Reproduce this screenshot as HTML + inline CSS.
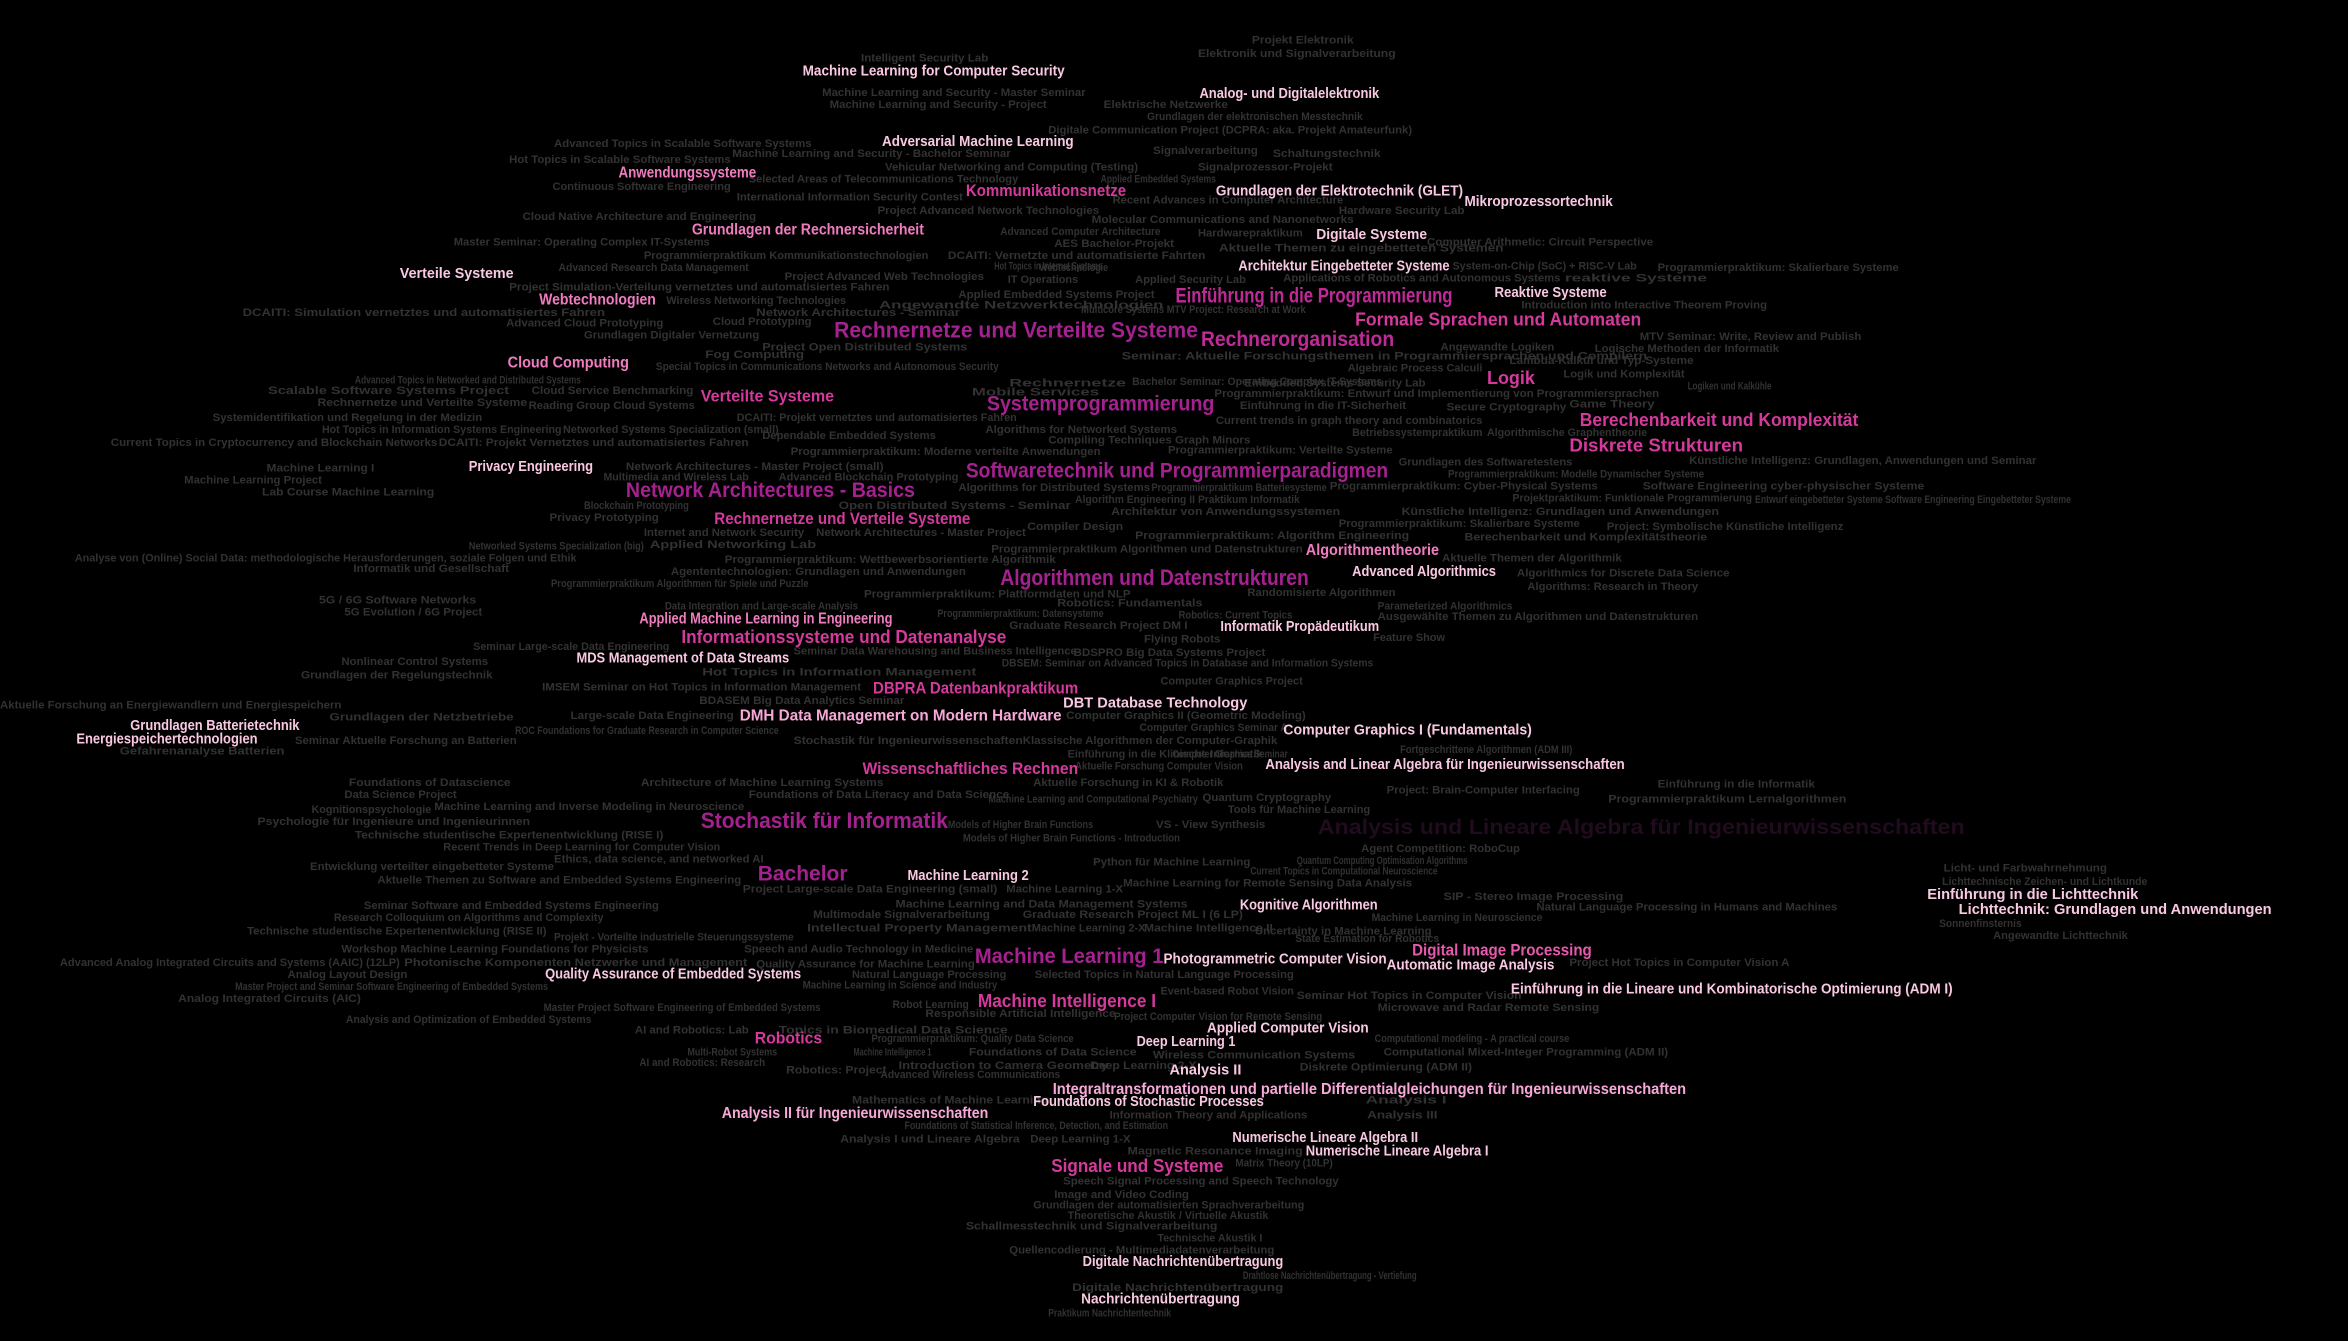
<!DOCTYPE html>
<html><head><meta charset="utf-8"><style>
html,body{margin:0;padding:0;background:#000;width:2348px;height:1341px;overflow:hidden}
svg{display:block}
text{font-family:"Liberation Sans",Arial,sans-serif;font-weight:bold}
.g{font-size:7.6px;fill:#323232}
.d{font-size:7.6px;fill:#262626}
.w{font-size:9.6px;fill:#f9c8e2}
.p{font-size:10.2px;fill:#f07cc0}
.m{font-size:12.5px;fill:#d43a9c}
.b{font-size:15px;fill:#a5218f}
</style></head><body>
<svg width="2348" height="1341" viewBox="0 0 1568 895.5" preserveAspectRatio="none" xmlns="http://www.w3.org/2000/svg">
<rect width="1568" height="896" fill="#000"/>
<text class="d" x="880" y="557" textLength="432" style="font-size:14px;fill:#210b1f">Analysis und Lineare Algebra für Ingenieurwissenschaften</text>
<g>
<text class="g" x="836" y="29" textLength="68">Projekt Elektronik</text>
<text class="g" x="800" y="38" textLength="132">Elektronik und Signalverarbeitung</text>
<text class="g" x="575" y="41" textLength="85">Intelligent Security Lab</text>
<text class="g" x="549" y="64" textLength="176">Machine Learning and Security - Master Seminar</text>
<text class="g" x="554" y="72" textLength="145">Machine Learning and Security - Project</text>
<text class="g" x="737" y="72" textLength="83">Elektrische Netzwerke</text>
<text class="g" x="766" y="80" textLength="144">Grundlagen der elektronischen Messtechnik</text>
<text class="g" x="700" y="89" textLength="243">Digitale Communication Project (DCPRA: aka. Projekt Amateurfunk)</text>
<text class="g" x="370" y="98" textLength="172">Advanced Topics in Scalable Software Systems</text>
<text class="g" x="489" y="105" textLength="186">Machine Learning and Security - Bachelor Seminar</text>
<text class="g" x="770" y="103" textLength="70">Signalverarbeitung</text>
<text class="g" x="850" y="105" textLength="72">Schaltungstechnik</text>
<text class="g" x="340" y="109" textLength="148">Hot Topics in Scalable Software Systems</text>
<text class="g" x="591" y="114" textLength="169">Vehicular Networking and Computing (Testing)</text>
<text class="g" x="800" y="114" textLength="90">Signalprozessor-Projekt</text>
<text class="g" x="500" y="122" textLength="180">Selected Areas of Telecommunications Technology</text>
<text class="g" x="735" y="122" textLength="77">Applied Embedded Systems</text>
<text class="g" x="369" y="127" textLength="119">Continuous Software Engineering</text>
<text class="g" x="492" y="134" textLength="151">International Information Security Contest</text>
<text class="g" x="743" y="136" textLength="154">Recent Advances in Computer Architecture</text>
<text class="g" x="586" y="143" textLength="148">Project Advanced Network Technologies</text>
<text class="g" x="894" y="143" textLength="84">Hardware Security Lab</text>
<text class="g" x="349" y="147" textLength="156">Cloud Native Architecture and Engineering</text>
<text class="g" x="729" y="149" textLength="175">Molecular Communications and Nanonetworks</text>
<text class="g" x="668" y="157" textLength="107">Advanced Computer Architecture</text>
<text class="g" x="800" y="158" textLength="70">Hardwarepraktikum</text>
<text class="g" x="953" y="164" textLength="151">Computer Arithmetic: Circuit Perspective</text>
<text class="g" x="303" y="164" textLength="171">Master Seminar: Operating Complex IT-Systems</text>
<text class="g" x="704" y="165" textLength="80">AES Bachelor-Projekt</text>
<text class="g" x="814" y="168" textLength="190">Aktuelle Themen zu eingebetteten Systemen</text>
<text class="g" x="430" y="173" textLength="190">Programmierpraktikum Kommunikationstechnologien</text>
<text class="g" x="633" y="173" textLength="172">DCAITI: Vernetzte und automatisierte Fahrten</text>
<text class="g" x="373" y="181" textLength="127">Advanced Research Data Management</text>
<text class="g" x="664" y="180" textLength="72">Hot Topics in Internet Systems</text>
<text class="g" x="694" y="181" textLength="46">Webtechnologie</text>
<text class="g" x="970" y="180" textLength="123">System-on-Chip (SoC) + RISC-V Lab</text>
<text class="g" x="1107" y="181" textLength="161">Programmierpraktikum: Skalierbare Systeme</text>
<text class="g" x="524" y="187" textLength="133">Project Advanced Web Technologies</text>
<text class="g" x="673" y="189" textLength="47">IT Operations</text>
<text class="g" x="758" y="189" textLength="74">Applied Security Lab</text>
<text class="g" x="857" y="188" textLength="185">Applications of Robotics and Autonomous Systems</text>
<text class="g" x="1045" y="188" textLength="95">reaktive Systeme</text>
<text class="g" x="340" y="194" textLength="254">Project Simulation-Verteilung vernetztes und automatisiertes Fahren</text>
<text class="g" x="640" y="199" textLength="131">Applied Embedded Systems Project</text>
<text class="g" x="445" y="203" textLength="120">Wireless Networking Technologies</text>
<text class="g" x="1016" y="206" textLength="164">Introduction into Interactive Theorem Proving</text>
<text class="g" x="162" y="211" textLength="242">DCAITI: Simulation vernetztes und automatisiertes Fahren</text>
<text class="g" x="505" y="211" textLength="136">Network Architectures - Seminar</text>
<text class="g" x="587" y="206" textLength="190">Angewandte Netzwerktechnologien</text>
<text class="g" x="722" y="209" textLength="150">Multicore Systems MTV Project: Research at Work</text>
<text class="g" x="338" y="218" textLength="105">Advanced Cloud Prototyping</text>
<text class="g" x="476" y="217" textLength="66">Cloud Prototyping</text>
<text class="g" x="390" y="226" textLength="117">Grundlagen Digitaler Vernetzung</text>
<text class="g" x="509" y="234" textLength="137">Project Open Distributed Systems</text>
<text class="g" x="471" y="239" textLength="66">Fog Computing</text>
<text class="g" x="1095" y="227" textLength="148">MTV Seminar: Write, Review and Publish</text>
<text class="g" x="962" y="234" textLength="76">Angewandte Logiken</text>
<text class="g" x="1065" y="235" textLength="123">Logische Methoden der Informatik</text>
<text class="g" x="438" y="247" textLength="229">Special Topics in Communications Networks and Autonomous Security</text>
<text class="g" x="749" y="240" textLength="351">Seminar: Aktuelle Forschungsthemen in Programmiersprachen und Compilern</text>
<text class="g" x="1008" y="243" textLength="123">Lambda-Kalkül und Typ-Systeme</text>
<text class="g" x="900" y="248" textLength="90">Algebraic Process Calculi</text>
<text class="g" x="1044" y="252" textLength="81">Logik und Komplexität</text>
<text class="g" x="237" y="256" textLength="151">Advanced Topics in Networked and Distributed Systems</text>
<text class="g" x="674" y="258" textLength="78">Rechnernetze</text>
<text class="g" x="756" y="257" textLength="167">Bachelor Seminar: Operating Complex IT-Systems</text>
<text class="g" x="831" y="258" textLength="121">Embedded Systems Security Lab</text>
<text class="g" x="1127" y="260" textLength="56">Logiken und Kalkühle</text>
<text class="g" x="179" y="263" textLength="161">Scalable Software Systems Project</text>
<text class="g" x="355" y="263" textLength="108">Cloud Service Benchmarking</text>
<text class="g" x="649" y="264" textLength="85">Mobile Services</text>
<text class="g" x="811" y="265" textLength="297">Programmierpraktikum: Entwurf und Implementierung von Programmiersprachen</text>
<text class="g" x="212" y="271" textLength="140">Rechnernetze und Verteilte Systeme</text>
<text class="g" x="353" y="273" textLength="111">Reading Group Cloud Systems</text>
<text class="g" x="828" y="273" textLength="111">Einführung in die IT-Sicherheit</text>
<text class="g" x="966" y="274" textLength="80">Secure Cryptography</text>
<text class="g" x="1048" y="272" textLength="57">Game Theory</text>
<text class="g" x="142" y="281" textLength="180">Systemidentifikation und Regelung in der Medizin</text>
<text class="g" x="492" y="281" textLength="187">DCAITI: Projekt vernetztes und automatisiertes Fahren</text>
<text class="g" x="812" y="283" textLength="178">Current trends in graph theory and combinatorics</text>
<text class="g" x="215" y="289" textLength="160">Hot Topics in Information Systems Engineering</text>
<text class="g" x="376" y="289" textLength="144">Networked Systems Specialization (small)</text>
<text class="g" x="658" y="289" textLength="128">Algorithms for Networked Systems</text>
<text class="g" x="903" y="291" textLength="87">Betriebssystempraktikum</text>
<text class="g" x="993" y="291" textLength="107">Algorithmische Graphentheorie</text>
<text class="g" x="74" y="298" textLength="218">Current Topics in Cryptocurrency and Blockchain Networks</text>
<text class="g" x="293" y="298" textLength="207">DCAITI: Projekt Vernetztes und automatisiertes Fahren</text>
<text class="g" x="509" y="293" textLength="116">Dependable Embedded Systems</text>
<text class="g" x="700" y="296" textLength="135">Compiling Techniques Graph Minors</text>
<text class="g" x="528" y="304" textLength="207">Programmierpraktikum: Moderne verteilte Anwendungen</text>
<text class="g" x="780" y="303" textLength="150">Programmierpraktikum: Verteilte Systeme</text>
<text class="g" x="934" y="311" textLength="116">Grundlagen des Softwaretestens</text>
<text class="g" x="1128" y="310" textLength="232">Künstliche Intelligenz: Grundlagen, Anwendungen und Seminar</text>
<text class="g" x="178" y="315" textLength="72">Machine Learning I</text>
<text class="g" x="418" y="314" textLength="172">Network Architectures - Master Project (small)</text>
<text class="g" x="967" y="319" textLength="171">Programmierpraktikum: Modelle Dynamischer Systeme</text>
<text class="g" x="123" y="323" textLength="92">Machine Learning Project</text>
<text class="g" x="403" y="321" textLength="97">Multimedia and Wireless Lab</text>
<text class="g" x="520" y="321" textLength="120">Advanced Blockchain Prototyping</text>
<text class="g" x="769" y="328" textLength="117">Programmierpraktikum Batteriesysteme</text>
<text class="g" x="888" y="327" textLength="179">Programmierpraktikum: Cyber-Physical Systems</text>
<text class="g" x="1097" y="327" textLength="188">Software Engineering cyber-physischer Systeme</text>
<text class="g" x="175" y="331" textLength="115">Lab Course Machine Learning</text>
<text class="g" x="640" y="328" textLength="128">Algorithms for Distributed Systems</text>
<text class="g" x="390" y="340" textLength="70">Blockchain Prototyping</text>
<text class="g" x="718" y="336" textLength="80">Algorithm Engineering II</text>
<text class="g" x="800" y="336" textLength="68">Praktikum Informatik</text>
<text class="g" x="1010" y="335" textLength="160">Projektpraktikum: Funktionale Programmierung</text>
<text class="g" x="1172" y="336" textLength="211">Entwurf eingebetteter Systeme Software Engineering Eingebetteter Systeme</text>
<text class="g" x="560" y="340" textLength="155">Open Distributed Systems - Seminar</text>
<text class="g" x="742" y="344" textLength="153">Architektur von Anwendungssystemen</text>
<text class="g" x="936" y="344" textLength="212">Künstliche Intelligenz: Grundlagen und Anwendungen</text>
<text class="g" x="367" y="348" textLength="73">Privacy Prototyping</text>
<text class="g" x="686" y="354" textLength="64">Compiler Design</text>
<text class="g" x="894" y="352" textLength="161">Programmierpraktikum: Skalierbare Systeme</text>
<text class="g" x="1073" y="354" textLength="158">Project: Symbolische Künstliche Intelligenz</text>
<text class="g" x="430" y="358" textLength="107">Internet and Network Security</text>
<text class="g" x="545" y="358" textLength="140">Network Architectures - Master Project</text>
<text class="g" x="758" y="360" textLength="183">Programmierpraktikum: Algorithm Engineering</text>
<text class="g" x="978" y="361" textLength="162">Berechenbarkeit und Komplexitätstheorie</text>
<text class="g" x="313" y="367" textLength="117">Networked Systems Specialization (big)</text>
<text class="g" x="434" y="366" textLength="111">Applied Networking Lab</text>
<text class="g" x="662" y="369" textLength="208">Programmierpraktikum Algorithmen und Datenstrukturen</text>
<text class="g" x="50" y="375" textLength="335">Analyse von (Online) Social Data: methodologische Herausforderungen, soziale Folgen und Ethik</text>
<text class="g" x="963" y="375" textLength="120">Aktuelle Themen der Algorithmik</text>
<text class="g" x="236" y="382" textLength="104">Informatik und Gesellschaft</text>
<text class="g" x="484" y="376" textLength="221">Programmierpraktikum: Wettbewerbsorientierte Algorithmik</text>
<text class="g" x="448" y="384" textLength="197">Agententechnologien: Grundlagen und Anwendungen</text>
<text class="g" x="1013" y="385" textLength="142">Algorithmics for Discrete Data Science</text>
<text class="g" x="368" y="392" textLength="172">Programmierpraktikum Algorithmen für Spiele und Puzzle</text>
<text class="g" x="1020" y="394" textLength="114">Algorithms: Research in Theory</text>
<text class="g" x="833" y="398" textLength="99">Randomisierte Algorithmen</text>
<text class="g" x="577" y="399" textLength="178">Programmierpraktikum: Plattformdaten und NLP</text>
<text class="g" x="213" y="403" textLength="105">5G / 6G Software Networks</text>
<text class="g" x="230" y="411" textLength="92">5G Evolution / 6G Project</text>
<text class="g" x="706" y="405" textLength="97">Robotics: Fundamentals</text>
<text class="g" x="920" y="407" textLength="90">Parameterized Algorithmics</text>
<text class="g" x="444" y="407" textLength="129">Data Integration and Large-scale Analysis</text>
<text class="g" x="626" y="412" textLength="111">Programmierpraktikum: Datensysteme</text>
<text class="g" x="787" y="413" textLength="76">Robotics: Current Topics</text>
<text class="g" x="920" y="414" textLength="214">Ausgewählte Themen zu Algorithmen und Datenstrukturen</text>
<text class="g" x="674" y="420" textLength="119">Graduate Research Project DM I</text>
<text class="g" x="764" y="429" textLength="51">Flying Robots</text>
<text class="g" x="316" y="434" textLength="131">Seminar Large-scale Data Engineering</text>
<text class="g" x="917" y="428" textLength="48">Feature Show</text>
<text class="g" x="530" y="437" textLength="189">Seminar Data Warehousing and Business Intelligence</text>
<text class="g" x="717" y="438" textLength="128">BDSPRO Big Data Systems Project</text>
<text class="g" x="228" y="444" textLength="98">Nonlinear Control Systems</text>
<text class="g" x="669" y="445" textLength="248">DBSEM: Seminar on Advanced Topics in Database and Information Systems</text>
<text class="g" x="201" y="453" textLength="128">Grundlagen der Regelungstechnik</text>
<text class="g" x="775" y="457" textLength="95">Computer Graphics Project</text>
<text class="g" x="469" y="451" textLength="183">Hot Topics in Information Management</text>
<text class="g" x="362" y="461" textLength="213">IMSEM Seminar on Hot Topics in Information Management</text>
<text class="g" x="0" y="473" textLength="228">Aktuelle Forschung an Energiewandlern und Energiespeichern</text>
<text class="g" x="467" y="470" textLength="137">BDASEM Big Data Analytics Seminar</text>
<text class="g" x="381" y="480" textLength="109">Large-scale Data Engineering</text>
<text class="g" x="712" y="480" textLength="160">Computer Graphics II (Geometric Modeling)</text>
<text class="g" x="220" y="481" textLength="123">Grundlagen der Netzbetriebe</text>
<text class="g" x="344" y="490" textLength="176">ROC Foundations for Graduate Research in Computer Science</text>
<text class="g" x="761" y="488" textLength="99">Computer Graphics Seminar A</text>
<text class="g" x="197" y="497" textLength="148">Seminar Aktuelle Forschung an Batterien</text>
<text class="g" x="530" y="497" textLength="153">Stochastik für Ingenieurwissenschaften</text>
<text class="g" x="683" y="497" textLength="170">Klassische Algorithmen der Computer-Graphik</text>
<text class="g" x="935" y="503" textLength="115">Fortgeschrittene Algorithmen (ADM III)</text>
<text class="g" x="80" y="504" textLength="110">Gefahrenanalyse Batterien</text>
<text class="g" x="783" y="506" textLength="77">Computer Graphics Seminar</text>
<text class="g" x="713" y="506" textLength="130">Einführung in die Klinische Informatik</text>
<text class="g" x="718" y="514" textLength="112">Aktuelle Forschung Computer Vision</text>
<text class="g" x="233" y="525" textLength="108">Foundations of Datascience</text>
<text class="g" x="428" y="525" textLength="162">Architecture of Machine Learning Systems</text>
<text class="g" x="690" y="525" textLength="127">Aktuelle Forschung in KI &amp; Robotik</text>
<text class="g" x="926" y="530" textLength="129">Project: Brain-Computer Interfacing</text>
<text class="g" x="1107" y="526" textLength="105">Einführung in die Informatik</text>
<text class="g" x="230" y="533" textLength="75">Data Science Project</text>
<text class="g" x="500" y="533" textLength="174">Foundations of Data Literacy and Data Science</text>
<text class="g" x="803" y="535" textLength="86">Quantum Cryptography</text>
<text class="g" x="1074" y="536" textLength="159">Programmierpraktikum Lernalgorithmen</text>
<text class="g" x="290" y="541" textLength="207">Machine Learning and Inverse Modeling in Neuroscience</text>
<text class="g" x="208" y="543" textLength="80">Kognitionspsychologie</text>
<text class="g" x="660" y="536" textLength="140">Machine Learning and Computational Psychiatry</text>
<text class="g" x="820" y="543" textLength="95">Tools für Machine Learning</text>
<text class="g" x="172" y="551" textLength="182">Psychologie für Ingenieure und Ingenieurinnen</text>
<text class="g" x="633" y="553" textLength="97">Models of Higher Brain Functions</text>
<text class="g" x="772" y="553" textLength="73">VS - View Synthesis</text>
<text class="g" x="237" y="560" textLength="206">Technische studentische Expertenentwicklung (RISE I)</text>
<text class="g" x="643" y="562" textLength="145">Models of Higher Brain Functions - Introduction</text>
<text class="g" x="296" y="568" textLength="185">Recent Trends in Deep Learning for Computer Vision</text>
<text class="g" x="909" y="569" textLength="106">Agent Competition: RoboCup</text>
<text class="g" x="370" y="576" textLength="140">Ethics, data science, and networked AI</text>
<text class="g" x="730" y="578" textLength="105">Python für Machine Learning</text>
<text class="g" x="866" y="577" textLength="114">Quantum Computing Optimisation Algorithms</text>
<text class="g" x="207" y="581" textLength="163">Entwicklung verteilter eingebetteter Systeme</text>
<text class="g" x="835" y="584" textLength="125">Current Topics in Computational Neuroscience</text>
<text class="g" x="1298" y="582" textLength="109">Licht- und Farbwahrnehmung</text>
<text class="g" x="252" y="590" textLength="243">Aktuelle Themen zu Software and Embedded Systems Engineering</text>
<text class="g" x="1297" y="591" textLength="137">Lichttechnische Zeichen- und Lichtkunde</text>
<text class="g" x="496" y="596" textLength="170">Project Large-scale Data Engineering (small)</text>
<text class="g" x="672" y="596" textLength="78">Machine Learning 1-X</text>
<text class="g" x="750" y="592" textLength="193">Machine Learning for Remote Sensing Data Analysis</text>
<text class="g" x="964" y="601" textLength="120">SIP - Stereo Image Processing</text>
<text class="g" x="243" y="607" textLength="197">Seminar Software and Embedded Systems Engineering</text>
<text class="g" x="598" y="606" textLength="195">Machine Learning and Data Management Systems</text>
<text class="g" x="1026" y="608" textLength="201">Natural Language Processing in Humans and Machines</text>
<text class="g" x="223" y="615" textLength="180">Research Colloquium on Algorithms and Complexity</text>
<text class="g" x="543" y="613" textLength="118">Multimodale Signalverarbeitung</text>
<text class="g" x="683" y="613" textLength="147">Graduate Research Project ML I (6 LP)</text>
<text class="g" x="916" y="615" textLength="114">Machine Learning in Neuroscience</text>
<text class="g" x="1295" y="619" textLength="55">Sonnenfinsternis</text>
<text class="g" x="165" y="624" textLength="200">Technische studentische Expertenentwicklung (RISE II)</text>
<text class="g" x="370" y="628" textLength="160">Projekt - Vorteilte industrielle Steuerungssysteme</text>
<text class="g" x="539" y="622" textLength="150">Intellectual Property Management</text>
<text class="g" x="689" y="622" textLength="76">Machine Learning 2-X</text>
<text class="g" x="764" y="622" textLength="86">Machine Intelligence II</text>
<text class="g" x="838" y="624" textLength="118">Uncertainty in Machine Learning</text>
<text class="g" x="1331" y="627" textLength="90">Angewandte Lichttechnik</text>
<text class="g" x="228" y="636" textLength="205">Workshop Machine Learning Foundations for Physicists</text>
<text class="g" x="865" y="629" textLength="96">State Estimation for Robotics</text>
<text class="g" x="497" y="636" textLength="153">Speech and Audio Technology in Medicine</text>
<text class="g" x="40" y="645" textLength="227">Advanced Analog Integrated Circuits and Systems (AAIC) (12LP)</text>
<text class="g" x="270" y="645" textLength="229">Photonische Komponenten Netzwerke und Management</text>
<text class="g" x="505" y="646" textLength="146">Quality Assurance for Machine Learning</text>
<text class="g" x="1048" y="645" textLength="147">Project Hot Topics in Computer Vision A</text>
<text class="g" x="192" y="653" textLength="80">Analog Layout Design</text>
<text class="g" x="569" y="653" textLength="103">Natural Language Processing</text>
<text class="g" x="691" y="653" textLength="173">Selected Topics in Natural Language Processing</text>
<text class="g" x="157" y="661" textLength="209">Master Project and Seminar Software Engineering of Embedded Systems</text>
<text class="g" x="536" y="660" textLength="130">Machine Learning in Science and Industry</text>
<text class="g" x="775" y="664" textLength="89">Event-based Robot Vision</text>
<text class="g" x="866" y="667" textLength="150">Seminar Hot Topics in Computer Vision</text>
<text class="g" x="119" y="669" textLength="122">Analog Integrated Circuits (AIC)</text>
<text class="g" x="596" y="673" textLength="51">Robot Learning</text>
<text class="g" x="363" y="675" textLength="185">Master Project Software Engineering of Embedded Systems</text>
<text class="g" x="920" y="675" textLength="148">Microwave and Radar Remote Sensing</text>
<text class="g" x="618" y="679" textLength="127">Responsible Artificial Intelligence</text>
<text class="g" x="744" y="681" textLength="139">Project Computer Vision for Remote Sensing</text>
<text class="g" x="231" y="683" textLength="164">Analysis and Optimization of Embedded Systems</text>
<text class="g" x="424" y="690" textLength="76">AI and Robotics: Lab</text>
<text class="g" x="520" y="690" textLength="153">Topics in Biomedical Data Science</text>
<text class="g" x="918" y="696" textLength="130">Computational modeling - A practical course</text>
<text class="g" x="582" y="696" textLength="135">Programmierpraktikum: Quality Data Science</text>
<text class="g" x="647" y="705" textLength="112">Foundations of Data Science</text>
<text class="g" x="770" y="707" textLength="135">Wireless Communication Systems</text>
<text class="g" x="924" y="705" textLength="190">Computational Mixed-Integer Programming (ADM II)</text>
<text class="g" x="459" y="705" textLength="60">Multi-Robot Systems</text>
<text class="g" x="570" y="705" textLength="52">Machine Intelligence 1</text>
<text class="g" x="427" y="712" textLength="84">AI and Robotics: Research</text>
<text class="g" x="525" y="717" textLength="67">Robotics: Project</text>
<text class="g" x="600" y="714" textLength="140">Introduction to Camera Geometry</text>
<text class="g" x="728" y="714" textLength="71">Deep Learning 2-X</text>
<text class="g" x="868" y="715" textLength="115">Diskrete Optimierung (ADM II)</text>
<text class="g" x="588" y="720" textLength="120">Advanced Wireless Communications</text>
<text class="g" x="569" y="737" textLength="131">Mathematics of Machine Learning</text>
<text class="g" x="912" y="737" textLength="54">Analysis I</text>
<text class="g" x="741" y="747" textLength="132">Information Theory and Applications</text>
<text class="g" x="913" y="747" textLength="47">Analysis III</text>
<text class="g" x="604" y="754" textLength="176">Foundations of Statistical Inference, Detection, and Estimation</text>
<text class="g" x="561" y="763" textLength="120">Analysis I und Lineare Algebra</text>
<text class="g" x="688" y="763" textLength="67">Deep Learning 1-X</text>
<text class="g" x="753" y="771" textLength="117">Magnetic Resonance Imaging</text>
<text class="g" x="825" y="779" textLength="65">Matrix Theory (10LP)</text>
<text class="g" x="710" y="791" textLength="184">Speech Signal Processing and Speech Technology</text>
<text class="g" x="704" y="800" textLength="90">Image and Video Coding</text>
<text class="g" x="690" y="807" textLength="181">Grundlagen der automatisierten Sprachverarbeitung</text>
<text class="g" x="713" y="814" textLength="134">Theoretische Akustik / Virtuelle Akustik</text>
<text class="g" x="645" y="821" textLength="168">Schallmesstechnik und Signalverarbeitung</text>
<text class="g" x="773" y="829" textLength="70">Technische Akustik I</text>
<text class="g" x="674" y="837" textLength="177">Quellencodierung - Multimediadatenverarbeitung</text>
<text class="g" x="830" y="854" textLength="116">Drahtlose Nachrichtenübertragung - Vertiefung</text>
<text class="g" x="716" y="862" textLength="141">Digitale Nachrichtenübertragung</text>
<text class="g" x="700" y="879" textLength="82">Praktikum Nachrichtentechnik</text>
</g>
<g>
<text class="w" x="536" y="50.5" textLength="175">Machine Learning for Computer Security</text>
<text class="w" x="801" y="65.5" textLength="120">Analog- und Digitalelektronik</text>
<text class="w" x="589" y="97.5" textLength="128">Adversarial Machine Learning</text>
<text class="p" x="413" y="118.5" textLength="92">Anwendungssysteme</text>
<text class="m" x="645" y="131" textLength="107" style="font-size:11px">Kommunikationsnetze</text>
<text class="w" x="812" y="130.5" textLength="165">Grundlagen der Elektrotechnik (GLET)</text>
<text class="w" x="978" y="137.5" textLength="99">Mikroprozessortechnik</text>
<text class="p" x="462" y="156.5" textLength="155">Grundlagen der Rechnersicherheit</text>
<text class="w" x="879" y="159.5" textLength="74">Digitale Systeme</text>
<text class="w" x="827" y="180.5" textLength="141">Architektur Eingebetteter Systeme</text>
<text class="w" x="267" y="185.5" textLength="76">Verteile Systeme</text>
<text class="m" x="785" y="202" textLength="185" style="font-size:14px;fill:#c02a98">Einführung in die Programmierung</text>
<text class="w" x="998" y="198.5" textLength="75">Reaktive Systeme</text>
<text class="p" x="360" y="203.5" textLength="78">Webtechnologien</text>
<text class="m" x="905" y="217.5" textLength="191">Formale Sprachen und Automaten</text>
<text class="b" x="557" y="225.5" textLength="243">Rechnernetze und Verteilte Systeme</text>
<text class="m" x="802" y="231" textLength="129" style="font-size:14px;fill:#c02a98">Rechnerorganisation</text>
<text class="p" x="339" y="245.5" textLength="81">Cloud Computing</text>
<text class="m" x="993" y="256.5" textLength="32">Logik</text>
<text class="m" x="468" y="268" textLength="89" style="font-size:11px">Verteilte Systeme</text>
<text class="b" x="659" y="274" textLength="152" style="font-size:14px">Systemprogrammierung</text>
<text class="m" x="1055" y="284.5" textLength="186">Berechenbarkeit und Komplexität</text>
<text class="m" x="1048" y="301.5" textLength="116">Diskrete Strukturen</text>
<text class="w" x="313" y="314.5" textLength="83">Privacy Engineering</text>
<text class="b" x="645" y="319" textLength="282" style="font-size:14px">Softwaretechnik und Programmierparadigmen</text>
<text class="b" x="418" y="332" textLength="193" style="font-size:14px">Network Architectures - Basics</text>
<text class="m" x="477" y="350" textLength="171" style="font-size:11px">Rechnernetze und Verteile Systeme</text>
<text class="p" x="872" y="370.5" textLength="89">Algorithmentheorie</text>
<text class="b" x="668" y="390.5" textLength="206">Algorithmen und Datenstrukturen</text>
<text class="w" x="903" y="384.5" textLength="96">Advanced Algorithmics</text>
<text class="p" x="427" y="416.5" textLength="169">Applied Machine Learning in Engineering</text>
<text class="w" x="815" y="421.5" textLength="106">Informatik Propädeutikum</text>
<text class="m" x="455" y="429.5" textLength="217">Informationssysteme und Datenanalyse</text>
<text class="w" x="385" y="442.5" textLength="142">MDS Management of Data Streams</text>
<text class="m" x="583" y="463" textLength="137" style="font-size:11px">DBPRA Datenbankpraktikum</text>
<text class="w" x="710" y="472.5" textLength="123" style="font-size:10px">DBT Database Technology</text>
<text class="p" x="494" y="481" textLength="215" style="fill:#f8a8d8">DMH Data Managemert on Modern Hardware</text>
<text class="w" x="87" y="487.5" textLength="113">Grundlagen Batterietechnik</text>
<text class="w" x="51" y="496.5" textLength="121">Energiespeichertechnologien</text>
<text class="w" x="857" y="490.5" textLength="166">Computer Graphics I (Fundamentals)</text>
<text class="w" x="845" y="513.5" textLength="240">Analysis and Linear Algebra für Ingenieurwissenschaften</text>
<text class="m" x="576" y="517" textLength="144" style="font-size:11px">Wissenschaftliches Rechnen</text>
<text class="b" x="468" y="553" textLength="165">Stochastik für Informatik</text>
<text class="b" x="506" y="588" textLength="60" style="font-size:14px">Bachelor</text>
<text class="w" x="606" y="587.5" textLength="81">Machine Learning 2</text>
<text class="w" x="1287" y="600.5" textLength="141">Einführung in die Lichttechnik</text>
<text class="w" x="1308" y="610.5" textLength="209" style="font-size:10px">Lichttechnik: Grundlagen und Anwendungen</text>
<text class="w" x="828" y="607.5" textLength="92">Kognitive Algorithmen</text>
<text class="m" x="943" y="638" textLength="120" style="font-size:11px;fill:#e45aac">Digital Image Processing</text>
<text class="b" x="651" y="643" textLength="126" style="font-size:14px">Machine Learning 1</text>
<text class="w" x="777" y="643.5" textLength="149">Photogrammetric Computer Vision</text>
<text class="w" x="926" y="647.5" textLength="112">Automatic Image Analysis</text>
<text class="w" x="364" y="653.5" textLength="171">Quality Assurance of Embedded Systems</text>
<text class="w" x="1009" y="663.5" textLength="295">Einführung in die Lineare und Kombinatorische Optimierung (ADM I)</text>
<text class="m" x="653" y="672.5" textLength="119">Machine Intelligence I</text>
<text class="w" x="806" y="689.5" textLength="108">Applied Computer Vision</text>
<text class="m" x="504" y="697" textLength="45" style="font-size:11px">Robotics</text>
<text class="w" x="759" y="698.5" textLength="66">Deep Learning 1</text>
<text class="w" x="781" y="717.5" textLength="48">Analysis II</text>
<text class="p" x="703" y="730.5" textLength="423" style="fill:#f8a8d8">Integraltransformationen und partielle Differentialgleichungen für Ingenieurwissenschaften</text>
<text class="w" x="690" y="738.5" textLength="154">Foundations of Stochastic Processes</text>
<text class="p" x="482" y="746.5" textLength="178" style="fill:#f8a8d8">Analysis II für Ingenieurwissenschaften</text>
<text class="w" x="823" y="762.5" textLength="124">Numerische Lineare Algebra II</text>
<text class="w" x="872" y="771.5" textLength="122">Numerische Lineare Algebra I</text>
<text class="m" x="702" y="782.5" textLength="115">Signale und Systeme</text>
<text class="w" x="723" y="845.5" textLength="134">Digitale Nachrichtenübertragung</text>
<text class="w" x="722" y="870.5" textLength="106">Nachrichtenübertragung</text>
</g>
</svg>
<script>document.querySelectorAll('text').forEach(function(t){t.setAttribute('lengthAdjust','spacingAndGlyphs')});</script>
</body></html>
